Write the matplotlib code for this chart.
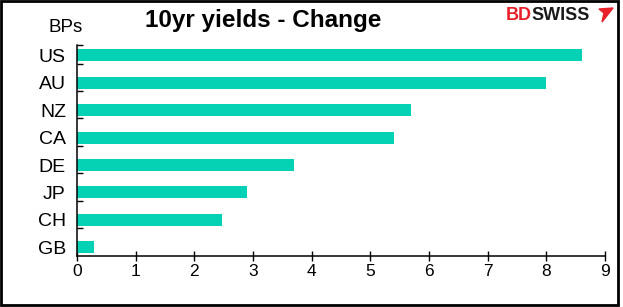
import matplotlib
matplotlib.use("Agg")
import matplotlib.pyplot as plt
from matplotlib.patches import Rectangle, Polygon
import numpy as np

countries = ["US", "AU", "NZ", "CA", "DE", "JP", "CH", "GB"]
changes = [8.60, 8.00, 5.69, 5.40, 3.70, 2.90, 2.47, 0.29]
x_ticks = [0, 1, 2, 3, 4, 5, 6, 7, 8, 9]

bar_color = "#05d2b5"
plt.rcParams['font.family'] = ['Liberation Sans', 'DejaVu Sans']

fig = plt.figure(figsize=(6.23, 3.07), dpi=100)
W, H = 623, 307
ax = fig.add_axes([77 / W, 1 - 255.5 / H, (605 - 77) / W, (255.5 - 45) / H])

pos = np.arange(len(countries))
ax.barh(pos + 0.2, changes, height=0.44, color=bar_color, zorder=2)

ax.set_xlim(0, 9)
ax.set_ylim(7.5, -0.18)

ax.set_xticks(x_ticks)
ax.set_xticklabels([str(t) for t in x_ticks], fontsize=12.5)
ax.tick_params(axis='x', direction='inout', length=6.5, width=1.0, pad=3, colors='black')

ax.set_yticks(pos + 0.2)
ax.set_yticklabels(countries, fontsize=14)
ax.tick_params(axis='y', which='major', length=0, pad=8)
ax.set_yticks(list(np.arange(len(countries) - 1) + 0.5) + [-0.18], minor=True)
ax.tick_params(axis='y', which='minor', direction='in', length=4.5, width=1.0)

for s in ['top', 'right']:
    ax.spines[s].set_visible(False)
for s in ['left', 'bottom']:
    ax.spines[s].set_linewidth(1.1)
    ax.spines[s].set_color('black')

fig.text(263 / W, 1 - 20 / H, "10yr yields - Change", fontsize=17.5, fontweight='bold',
         ha='center', va='center')
fig.text(66 / W, 1 - 27 / H, "BPs", fontsize=13.5, ha='center', va='center')

# logo
bd = fig.text(506 / W, 1 - 16 / H, "BD", fontsize=13, fontweight='bold', color='#e8202a',
              ha='left', va='center')
ax.annotate("SWISS", xy=(1, 0.5), xycoords=bd, xytext=(-0.5, 0), textcoords='offset points',
            fontsize=13, fontweight='bold', color='#1a1a1a', ha='left', va='center',
            annotation_clip=False)
flag = Polygon([[599 / W, 1 - 9 / H], [613 / W, 1 - 8 / H], [602 / W, 1 - 22 / H],
                [604 / W, 1 - 13 / H]],
               closed=True, transform=fig.transFigure, color='#e8202a')
fig.patches.append(flag)

border = Rectangle((1 / W, 2 / H), 617 / W, (H - 3) / H, transform=fig.transFigure,
                   fill=False, edgecolor='black', linewidth=2)
fig.patches.append(border)

fig.savefig("out.png", dpi=100)
